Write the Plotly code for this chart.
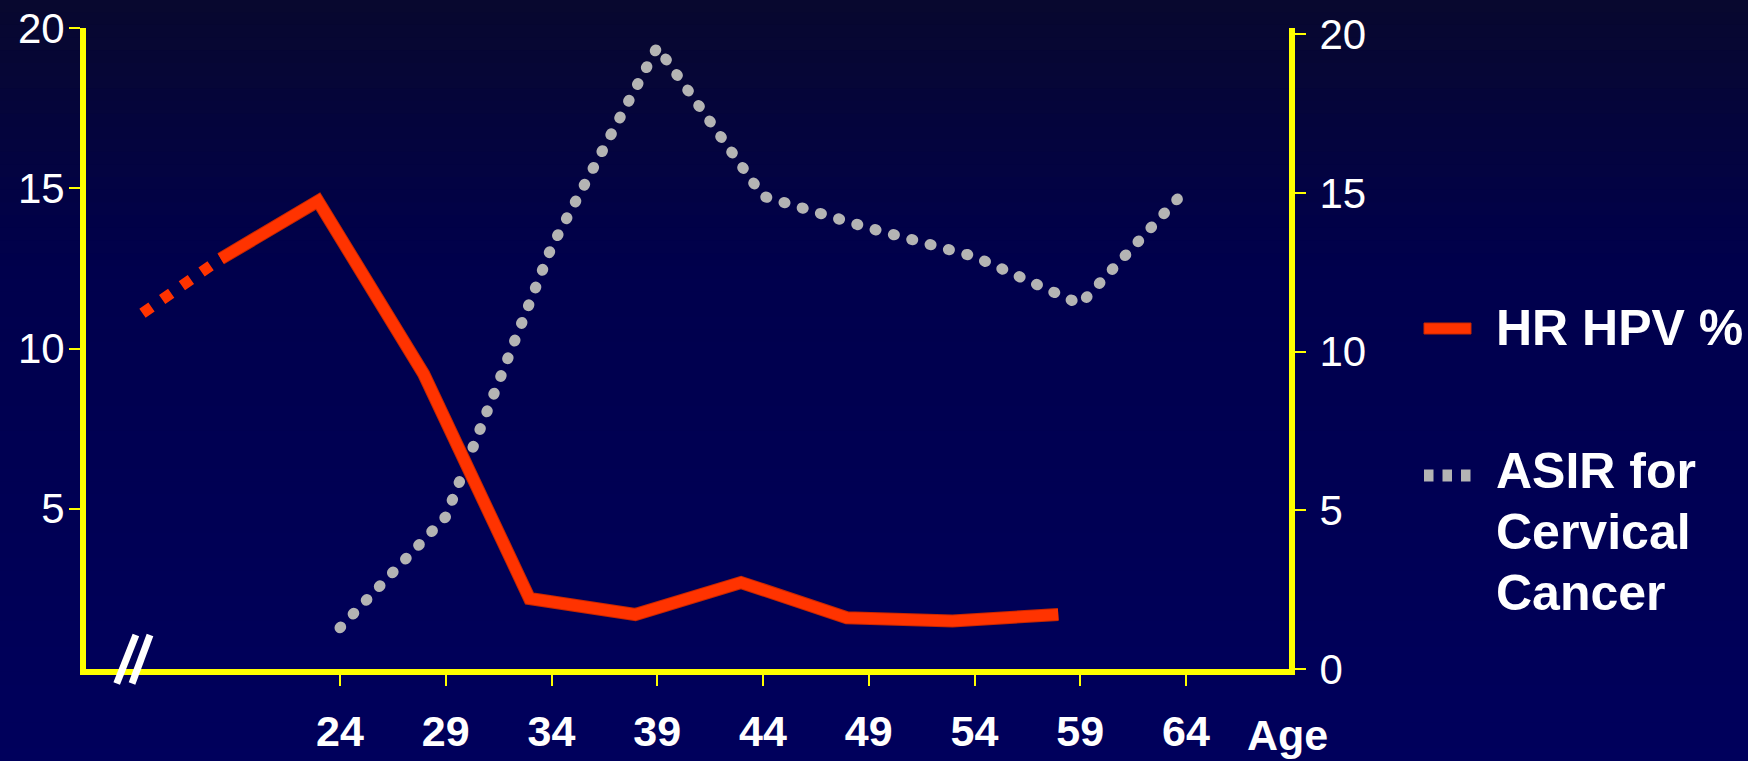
import plotly.graph_objects as go

# ---- data -------------------------------------------------------------
ages = [24, 29, 34, 39, 44, 49, 54, 59, 64]
age_labels = ["24", "29", "34", "39", "44", "49", "54", "59", "64"]

# age-specific incidence rate of cervical cancer (right axis)
asir = [1.3, 4.8, 13.3, 19.6, 14.9, 13.9, 13.0, 11.5, 15.1]

# high-risk HPV prevalence, % (left axis)
hpv_ages = [19.4, 24, 29, 34, 39, 44, 49, 54, 59]
hpv = [12.8, 14.6, 9.2, 2.2, 1.7, 2.7, 1.6, 1.5, 1.7]

# dashed lead-in towards the youngest ages
hpv_lead_ages = [15.7, 19.4]
hpv_lead = [11.1, 12.8]

left_ticks = [5, 10, 15, 20]
right_ticks = [0, 5, 10, 15, 20]

# ---- page geometry ----------------------------------------------------
W, H = 1748, 761
L, R, T, B = 86, 1289, 28, 669          # plot area in pixels


def px(x):
    return (x - L) / (R - L)


def py(y):
    return (B - y) / (B - T)


YELLOW = "#FFFF00"
RED = "#FF3300"
RED_EDGE = "#C82800"
GREY = "#B4B4B4"
FONT = "Liberation Sans, Arial, sans-serif"

fig = go.Figure()

# ASIR dotted line on the main (right-hand) scale
fig.add_trace(go.Scatter(
    x=ages, y=asir, xaxis="x", yaxis="y", mode="lines",
    line=dict(color="rgb(180,180,180)", width=11, dash="1px,18px"),
    name="ASIR for Cervical Cancer", showlegend=False, hoverinfo="skip"))

# HR HPV line (thin darker rim underneath, bright stroke on top)
fig.add_trace(go.Scatter(
    x=hpv_ages, y=hpv, xaxis="x2", yaxis="y2", mode="lines",
    line=dict(color=RED_EDGE, width=13), showlegend=False, hoverinfo="skip"))
fig.add_trace(go.Scatter(
    x=hpv_ages, y=hpv, xaxis="x2", yaxis="y2", mode="lines",
    line=dict(color=RED, width=11), name="HR HPV %",
    showlegend=False, hoverinfo="skip"))
fig.add_trace(go.Scatter(
    x=hpv_lead_ages, y=hpv_lead, xaxis="x2", yaxis="y2", mode="lines",
    line=dict(color=RED, width=11, dash="11px,13px"),
    showlegend=False, hoverinfo="skip"))

# ---- background gradient ---------------------------------------------
shapes = []
top_rgb = (8, 8, 46)
mid_rgb = (0, 0, 76)
bot_rgb = (0, 0, 92)
n = 60
for i in range(n):
    y0 = H * i / n
    y1 = H * (i + 1) / n
    f = (y0 + y1) / 2 / H
    if f < 0.35:
        g = f / 0.35
        c = [round(a + (b - a) * g) for a, b in zip(top_rgb, mid_rgb)]
    else:
        g = (f - 0.35) / 0.65
        c = [round(a + (b - a) * g) for a, b in zip(mid_rgb, bot_rgb)]
    shapes.append(dict(type="rect", xref="paper", yref="paper",
                       x0=px(-5), x1=px(W + 5), y0=py(y1 + 0.5), y1=py(y0 - 0.5),
                       fillcolor="rgb(%d,%d,%d)" % tuple(c), line=dict(width=0),
                       layer="below"))

# axis break mark on the x axis
for xb, xt in [(116.7, 135.9), (132.0, 150.0)]:
    shapes.append(dict(type="line", xref="paper", yref="paper",
                       x0=px(xb), y0=py(683.5), x1=px(xt), y1=py(635),
                       line=dict(color="white", width=7)))

# legend keys
shapes.append(dict(type="rect", xref="paper", yref="paper",
                   x0=px(1424), x1=px(1471), y0=py(334), y1=py(323),
                   fillcolor=RED, line=dict(color=RED_EDGE, width=1)))
for x0 in [1424, 1442.5, 1461]:
    shapes.append(dict(type="rect", xref="paper", yref="paper",
                       x0=px(x0), x1=px(x0 + 9.5), y0=py(481.5), y1=py(469.5),
                       fillcolor=GREY, line=dict(width=0)))

annotations = []
legend_font = dict(family=FONT, size=50, color="white", weight="bold")
for text, yc in [("HR HPV %", 328), ("ASIR for", 470.5),
                 ("Cervical", 531.5), ("Cancer", 592.5)]:
    annotations.append(dict(text=text, xref="paper", yref="paper",
                            x=px(1494), y=py(yc), xanchor="left", yanchor="middle",
                            showarrow=False, font=legend_font))
annotations.append(dict(text="Age", xref="paper", yref="paper",
                        x=px(1245), y=py(735), xanchor="left", yanchor="middle",
                        showarrow=False,
                        font=dict(family=FONT, size=43, color="white", weight="bold")))

axis_common = dict(showgrid=False, zeroline=False, ticks="outside", ticklen=11,
                   tickwidth=2, tickcolor=YELLOW, linecolor=YELLOW, linewidth=6,
                   automargin=False)

fig.update_layout(
    width=W, height=H, autosize=False,
    margin=dict(l=L, r=W - R, t=T, b=H - B, pad=0, autoexpand=False),
    paper_bgcolor="rgb(0,0,92)", plot_bgcolor="rgba(0,0,0,0)",
    showlegend=False,
    xaxis=dict(range=[11.99, 68.87], tickmode="array", tickvals=ages,
               ticktext=age_labels, showline=True, anchor="y",
               tickfont=dict(family=FONT, size=43, color="white", weight="bold"),
               ticklabelstandoff=8, **axis_common),
    xaxis2=dict(range=[13.03, 69.91], overlaying="x", visible=False),
    yaxis=dict(range=[0, 20.2], side="right", tickmode="array",
               tickvals=right_ticks, showline=True, anchor="x",
               tickfont=dict(family=FONT, size=42, color="white"),
               ticklabelstandoff=5, **axis_common),
    yaxis2=dict(range=[0, 20], side="left", overlaying="y", anchor="x2",
                tickmode="array", tickvals=left_ticks, showline=True,
                tickfont=dict(family=FONT, size=42, color="white"),
                ticklabelstandoff=-4, **axis_common),
    shapes=shapes, annotations=annotations,
)

# round caps turn the short dashes of the incidence line into dots
post = """
var gd = document.getElementById('{plot_id}');
gd.querySelectorAll('path.js-line').forEach(function (p) {
  var s = (p.style.stroke || '').replace(/\\s/g, '');
  if (s === 'rgb(180,180,180)') { p.style.strokeLinecap = 'round'; }
});
"""

fig.write_html("out.html", post_script=post)
